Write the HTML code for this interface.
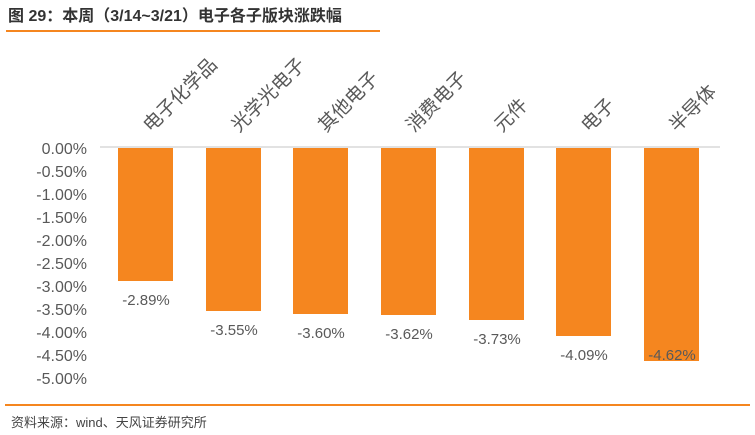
<!DOCTYPE html>
<html><head><meta charset="utf-8"><style>
body{margin:0;background:#fff;}
svg{display:block;font-family:"Liberation Sans","Noto Sans CJK SC",sans-serif;}
</style></head><body>
<svg width="755" height="435" viewBox="0 0 755 435" xmlns="http://www.w3.org/2000/svg">
<text x="8" y="21" font-size="16" font-weight="bold" fill="#333">图 29：本周（3/14~3/21）电子各子版块涨跌幅</text>
<line x1="6" y1="31" x2="380" y2="31" stroke="#f5861f" stroke-width="2"/>
<line x1="100" y1="147" x2="720" y2="147" stroke="#d9d9d9" stroke-width="1.5"/>
<g font-size="16" fill="#595959" text-anchor="end">
<text x="87" y="154">0.00%</text>
<text x="87" y="177">-0.50%</text>
<text x="87" y="200">-1.00%</text>
<text x="87" y="223">-1.50%</text>
<text x="87" y="246">-2.00%</text>
<text x="87" y="269">-2.50%</text>
<text x="87" y="292">-3.00%</text>
<text x="87" y="315">-3.50%</text>
<text x="87" y="338">-4.00%</text>
<text x="87" y="361">-4.50%</text>
<text x="87" y="384">-5.00%</text>
</g>
<g fill="#f5861f">
<rect x="118" y="148" width="55" height="133"/>
<rect x="206" y="148" width="55" height="163"/>
<rect x="293" y="148" width="55" height="166"/>
<rect x="381" y="148" width="55" height="167"/>
<rect x="469" y="148" width="55" height="172"/>
<rect x="556" y="148" width="55" height="188"/>
<rect x="644" y="148" width="55" height="213"/>
</g>
<g font-size="15" fill="#595959" text-anchor="middle">
<text x="146" y="305">-2.89%</text>
<text x="234" y="335">-3.55%</text>
<text x="321" y="338">-3.60%</text>
<text x="409" y="339">-3.62%</text>
<text x="497" y="344">-3.73%</text>
<text x="584" y="360">-4.09%</text>
<text x="672" y="360">-4.62%</text>
</g>
<g font-size="19" fill="#595959">
<text transform="translate(151,133) rotate(-45)">电子化学品</text>
<text transform="translate(239,133) rotate(-45)">光学光电子</text>
<text transform="translate(326,133) rotate(-45)">其他电子</text>
<text transform="translate(414,133) rotate(-45)">消费电子</text>
<text transform="translate(502,133) rotate(-45)">元件</text>
<text transform="translate(589,133) rotate(-45)">电子</text>
<text transform="translate(677,133) rotate(-45)">半导体</text>
</g>
<line x1="5" y1="405" x2="750" y2="405" stroke="#f5861f" stroke-width="2"/>
<text x="11" y="427" font-size="13" fill="#444">资料来源：wind、天风证券研究所</text>
</svg>
</body></html>
